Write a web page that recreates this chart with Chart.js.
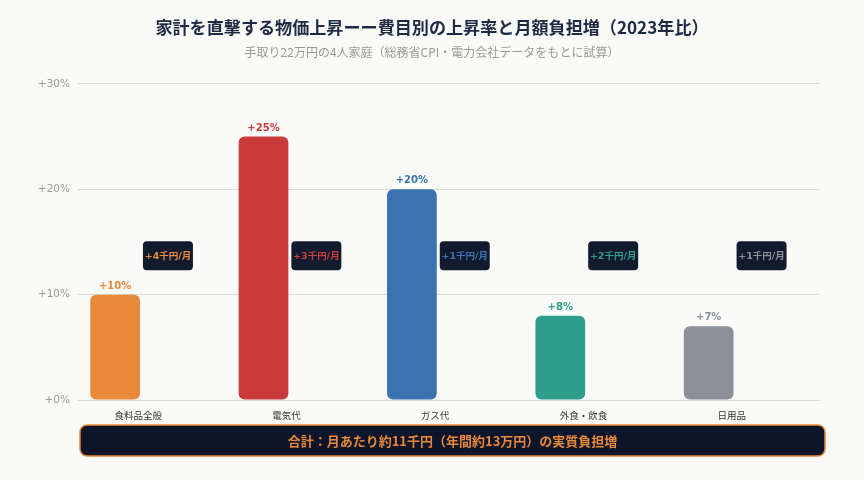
<!DOCTYPE html>
<html lang="ja">
<head>
<meta charset="utf-8">
<script src="https://cdn.jsdelivr.net/npm/chart.js@4.4.1/dist/chart.umd.min.js"></script>
<style>
  html, body { margin: 0; padding: 0; background: #FAFAF8; }
  #wrap { width: 864px; height: 480px; position: relative; }
</style>
</head>
<body>
<div id="wrap"><canvas id="c"></canvas></div>
<script>
/* 費目別の上昇率（2023年比）と月額負担増 */
const CATEGORIES = ['食料品全般', '電気代', 'ガス代', '外食・飲食', '日用品'];
const RISE_PCT = [10, 25, 20, 8, 7];          // 上昇率 %
const BURDEN_K = [4, 3, 1, 2, 1];             // 月額負担増（千円）
const Y_TICKS = [0, 10, 20, 30];
const COLORS = ['#E8883A', '#C93B3B', '#3B73B0', '#2E9E8A', '#8B9099'];
const TITLE = '家計を直撃する物価上昇ーー費目別の上昇率と月額負担増（2023年比）';
const SUBTITLE = '手取り22万円の4人家庭（総務省CPI・電力会社データをもとに試算）';
const SUMMARY = '合計：月あたり約11千円（年間約13万円）の実質負担増';

const INK = '#1E2A44';
const MUTED = '#9A9A9A';
const GRID = '#D9D9D6';
const BADGE_BG = '#121B2E';
const BOX_BG = '#0C1529';
const ACCENT = '#E8883A';
const JP = "'Noto Sans CJK JP', 'Noto Sans', sans-serif";
const NUM = "'DejaVu Sans', 'Noto Sans CJK JP', sans-serif";
const BADGE_LEVEL = 13.7;   // バッジを置く高さ（%軸）

const annotate = {
  id: 'annotate',
  afterDatasetsDraw(chart) {
    const { ctx, chartArea } = chart;
    const y = chart.scales.y;
    const bars = chart.getDatasetMeta(0).data;
    ctx.save();
    bars.forEach((bar, i) => {
      // value label
      ctx.fillStyle = COLORS[i];
      ctx.font = 'bold 10px ' + NUM;
      ctx.textAlign = 'center';
      ctx.textBaseline = 'middle';
      ctx.fillText('+' + RISE_PCT[i] + '%', bar.x, bar.y - 8.5);

      // monthly burden badge
      const bw = 50, bh = 29;
      const bx = bar.x + bar.width / 2 + 3;
      const by = y.getPixelForValue(BADGE_LEVEL) - bh / 2;
      ctx.fillStyle = BADGE_BG;
      ctx.beginPath();
      ctx.roundRect(bx, by, bw, bh, 4);
      ctx.fill();
      ctx.fillStyle = COLORS[i];
      ctx.font = 'bold 9.5px ' + NUM;
      ctx.fillText('+' + BURDEN_K[i] + '千円/月', bx + bw / 2, by + bh / 2 + 0.5);
    });

    // summary box
    const top = chartArea.bottom + 25;
    const left = chartArea.left + 2, right = chartArea.right + 5;
    ctx.fillStyle = BOX_BG;
    ctx.strokeStyle = ACCENT;
    ctx.lineWidth = 1.5;
    ctx.beginPath();
    ctx.roundRect(left, top, right - left, 31, 7);
    ctx.fill();
    ctx.stroke();
    ctx.fillStyle = ACCENT;
    ctx.font = 'bold 13px ' + JP;
    ctx.textAlign = 'center';
    ctx.textBaseline = 'middle';
    ctx.fillText(SUMMARY, (left + right) / 2, top + 16);
    ctx.restore();
  }
};

new Chart(document.getElementById('c'), {
  type: 'bar',
  data: {
    labels: CATEGORIES,
    datasets: [{
      data: RISE_PCT,
      backgroundColor: COLORS,
      hoverBackgroundColor: COLORS,
      borderWidth: 0,
      borderRadius: 6,
      borderSkipped: false,
      categoryPercentage: 1,
      barPercentage: 0.67
    }, {
      // 月額負担増：バッジ位置用の透明な系列
      data: BURDEN_K,
      yAxisID: 'y2',
      backgroundColor: 'rgba(0,0,0,0)',
      borderWidth: 0,
      categoryPercentage: 1,
      barPercentage: 0.67
    }]
  },
  options: {
    responsive: true, maintainAspectRatio: false,
    animation: false,
    devicePixelRatio: 1,
    layout: { padding: 0 },
    plugins: {
      legend: { display: false },
      tooltip: { enabled: false },
      title: {
        display: true, text: TITLE, color: INK,
        font: { family: JP, size: 17.1, weight: 'bold' },
        padding: { top: 17, bottom: 8 }
      },
      subtitle: {
        display: true, text: SUBTITLE, color: MUTED,
        font: { family: JP, size: 12 },
        padding: { top: 0, bottom: 24 }
      }
    },
    scales: {
      x: {
        grid: { display: false, drawTicks: false },
        border: { display: false },
        ticks: { color: '#333', font: { family: JP, size: 9.5 }, padding: 10, labelOffset: -14, maxRotation: 0 },
        afterFit(s) { s.height = 80; }
      },
      y: {
        min: 0, max: 30,
        afterBuildTicks(s) { s.ticks = Y_TICKS.map(v => ({ value: v })); },
        grid: { color: GRID, lineWidth: 1, drawTicks: false },
        border: { display: false },
        ticks: { color: MUTED, font: { family: NUM, size: 10.5 }, padding: 8, callback: v => '+' + v + '%' },
        afterFit(s) { s.width = 78; }
      },
      y2: {
        position: 'right', min: 0, max: 10,
        grid: { display: false, drawTicks: false },
        border: { display: false },
        ticks: { display: false },
        afterFit(s) { s.width = 44; }
      }
    }
  },
  plugins: [annotate]
});
</script>
</body>
</html>
